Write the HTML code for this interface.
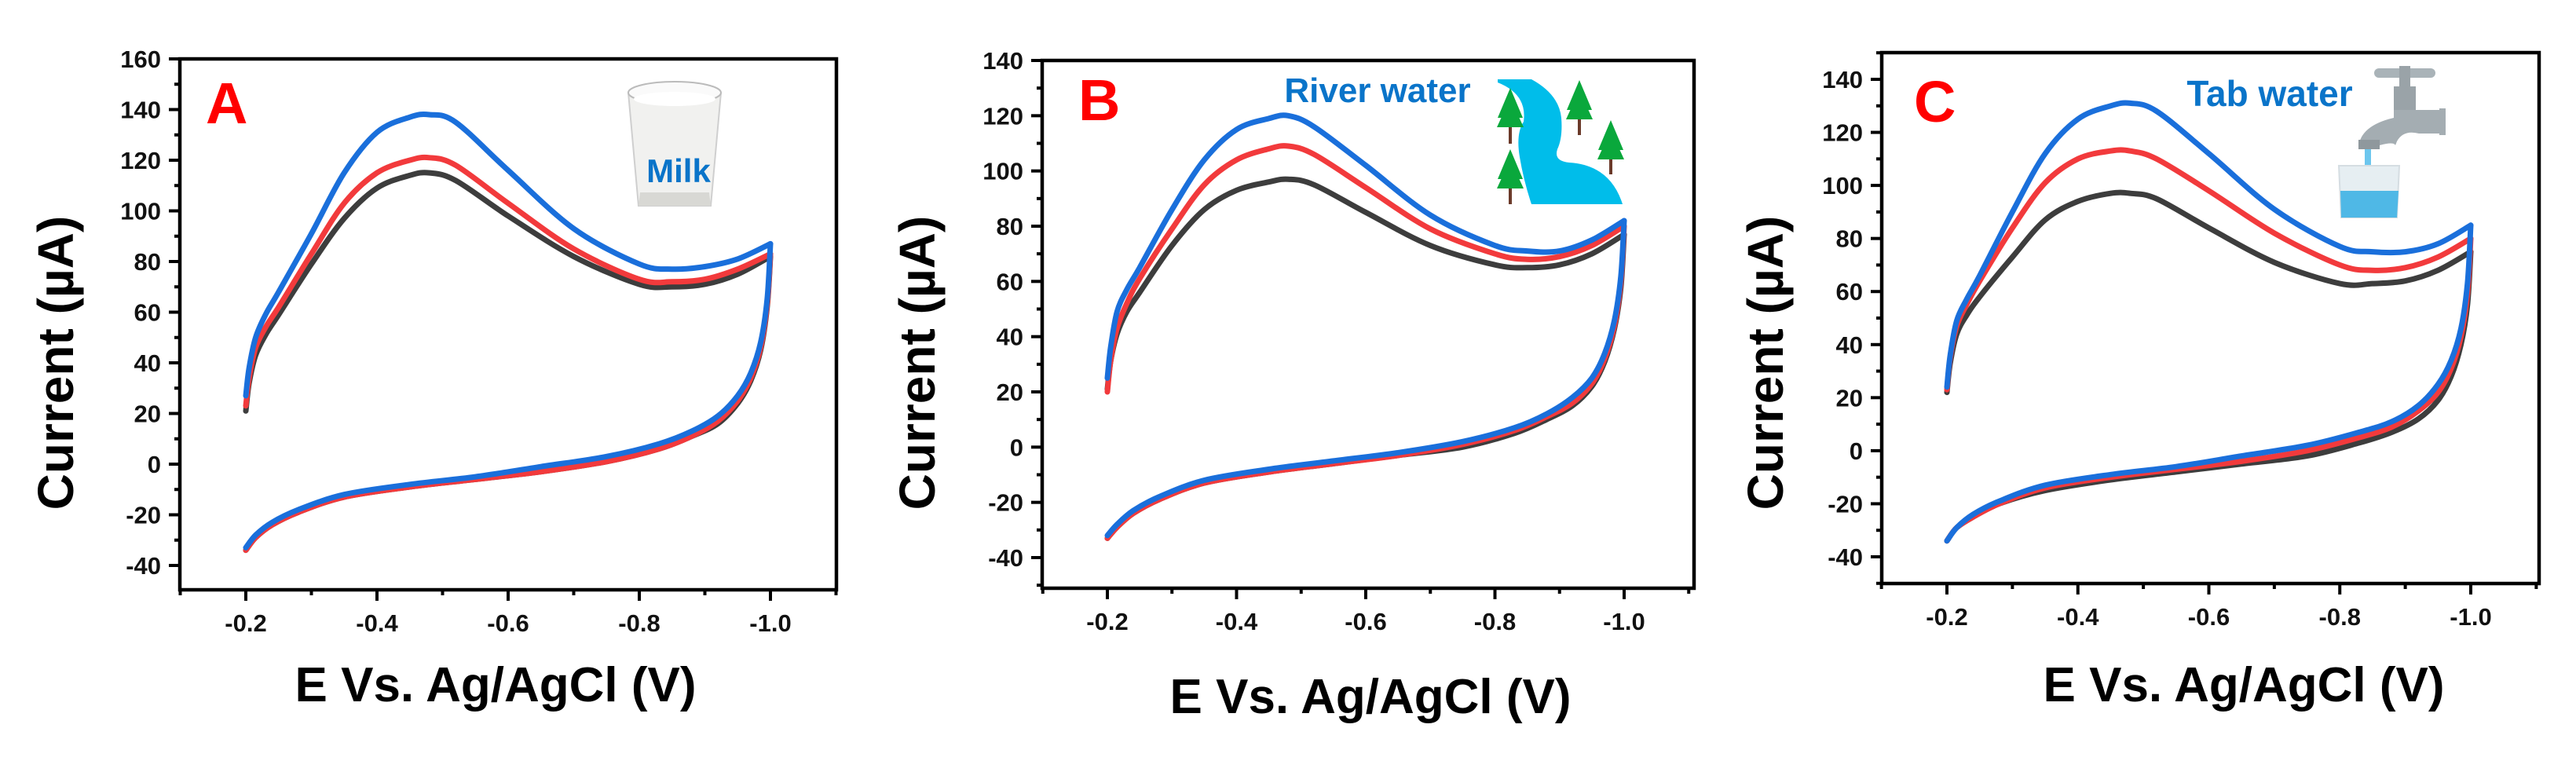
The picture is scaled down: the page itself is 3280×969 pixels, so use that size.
<!DOCTYPE html>
<html><head><meta charset="utf-8">
<style>
html,body{margin:0;padding:0;background:#fff;}
svg{display:block;}
text{font-family:"Liberation Sans",Arial,sans-serif;font-weight:bold;}
</style></head>
<body>
<svg id="fig" width="3280" height="969" viewBox="0 0 3280 969" xmlns="http://www.w3.org/2000/svg">
<rect x="0" y="0" width="3280" height="969" fill="#fff"/>
<g id="panels"></g>
<g id="icons">
  <g>
    <path d="M800,118 L918,118 L905,262 L813,262 Z" fill="#f1f1ef" stroke="#cfcfcf" stroke-width="2"/>
    <ellipse cx="859" cy="118" rx="59" ry="14" fill="#fafafa" stroke="#bbb" stroke-width="2"/>
    <ellipse cx="859" cy="126" rx="52" ry="9" fill="#fff"/>
    <path d="M815,245 L903,245 L905,262 L813,262 Z" fill="#d8d8d4"/>
  </g>
  <g>
    <path d="M1907,101 L1950,101 Q1985,120 1988,150 Q1990,175 1983,190 Q1978,205 1998,207 Q2050,210 2066,260 L1950,260 Q1940,230 1935,200 Q1930,170 1940,155 Q1945,120 1907,105 Z" fill="#00bdea"/>
    <g fill="#0aa83c">
      <path d="M1923,112 L1907,150 L1939,150 Z M1923,125 L1906,162 L1940,162 Z"/>
      <path d="M2011,102 L1995,140 L2027,140 Z M2011,115 L1994,152 L2028,152 Z"/>
      <path d="M2051,153 L2035,191 L2067,191 Z M2051,166 L2034,203 L2068,203 Z"/>
      <path d="M1923,190 L1907,228 L1939,228 Z M1923,203 L1906,240 L1940,240 Z"/>
    </g>
    <g stroke="#6b3a2a" stroke-width="4">
      <line x1="1923" y1="162" x2="1923" y2="183"/>
      <line x1="2011" y1="152" x2="2011" y2="172"/>
      <line x1="2051" y1="203" x2="2051" y2="222"/>
      <line x1="1923" y1="240" x2="1923" y2="260"/>
    </g>
  </g>
  <g>
    <rect x="3023" y="87" width="78" height="12" rx="6" fill="#a9b3b8"/>
    <rect x="3055" y="84" width="14" height="30" fill="#9aa3a8"/>
    <rect x="3048" y="110" width="28" height="32" fill="#9aa3a8"/>
    <path d="M3048,140 L3108,140 L3108,170 L3080,170 Q3060,165 3052,180 L3050,185 Q3048,180 3030,185 L3003,188 Q3005,160 3048,150 Z" fill="#a4adb2"/>
    <path d="M3003,178 L3030,178 L3030,190 L3003,190 Z" fill="#8f989d"/>
    <rect x="3106" y="138" width="8" height="34" fill="#a4adb2"/>
    <rect x="3011" y="190" width="8" height="60" fill="#6cc6ee"/>
    <path d="M2978,211 L3055,211 L3052,277 L2981,277 Z" fill="#e6eef2" stroke="#d5dde2" stroke-width="2"/>
    <path d="M2980,243 L3054,243 L3052,277 L2981,277 Z" fill="#4fb8e6"/>
  </g>
</g>
</svg>
<script>
const upX = [-0.2,-0.205,-0.215,-0.23,-0.25,-0.3,-0.35,-0.4,-0.45,-0.48,-0.52,-0.6,-0.7,-0.8,-0.85,-0.9,-0.95,-1.0];
const loX = [-1.0,-0.995,-0.985,-0.97,-0.95,-0.92,-0.88,-0.83,-0.75,-0.65,-0.55,-0.45,-0.35,-0.28,-0.24,-0.215,-0.2];

const A_black_up = [21,32,43,51,59,79,97,109,114,115,112,98,82,71,70,71,75,82];
const A_red_up   = [23,34,46,54,62,83,103,115,120,121,118,103,85,73,72,73,77,83];
const A_blue_up  = [27,38,50,59,68,91,115,131,137,138,135,116,93,79,77,78,81,87];
const A_black_lo = [82,62,45,33,24,16,11,6,1,-3,-6,-9,-13,-19,-24,-29,-34];
const A_red_lo   = [83,63,46,34,25,17,11,6,1,-3,-6,-9,-13,-19,-24,-29,-34];
const A_blue_lo  = [87,65,48,36,27,19,13,8,3,-1,-5,-8,-12,-18,-23,-28,-33];

const B_black_up = [21,31,41,49,56,73,86,93,96,97,95,85,73,66,65,66,70,77];
const B_red_up   = [20,31,43,52,61,79,95,104,108,109,106,94,79,70,68,69,73,80];
const B_blue_up  = [25,36,49,57,65,86,104,115,119,120,116,102,84,73,71,71,75,82];
const B_black_lo = [77,58,43,31,22,15,10,5,0,-3,-6,-9,-13,-19,-24,-29,-33];
const B_red_lo   = [80,60,44,32,23,16,11,6,1,-3,-6,-9,-13,-19,-24,-29,-33];
const B_blue_lo  = [82,62,46,34,25,18,12,7,2,-2,-5,-8,-12,-18,-23,-28,-32];

const C_black_up = [22,33,44,51,58,73,87,94,97,97,95,84,71,63,63,64,68,75];
const C_red_up   = [23,35,47,55,64,84,101,110,113,113,110,98,82,70,68,69,73,80];
const C_blue_up  = [24,36,49,57,66,90,112,125,130,131,128,112,91,77,75,75,78,85];
const C_black_lo = [75,55,40,28,19,12,7,3,-2,-5,-8,-11,-15,-20,-25,-29,-34];
const C_red_lo   = [80,59,43,31,22,15,9,5,0,-4,-7,-10,-14,-20,-25,-29,-34];
const C_blue_lo  = [85,63,46,34,25,17,11,7,2,-2,-6,-9,-13,-19,-24,-29,-34];

const xTickVals = [-0.2,-0.4,-0.6,-0.8,-1.0];
const xTickLabels = ["-0.2","-0.4","-0.6","-0.8","-1.0"];
const yTicksA = [-40,-20,0,20,40,60,80,100,120,140,160];
const yTicksB = [-40,-20,0,20,40,60,80,100,120,140];
const yTicksC = [-40,-20,0,20,40,60,80,100,120,140];

const NS = "http://www.w3.org/2000/svg";
function mk(tag, attrs, parent){
  const e = document.createElementNS(NS, tag);
  for (const k in attrs) e.setAttribute(k, attrs[k]);
  parent.appendChild(e);
  return e;
}
function smoothPath(pts){
  let d = "M" + pts[0][0].toFixed(1) + "," + pts[0][1].toFixed(1);
  for (let i=0;i<pts.length-1;i++){
    const p0 = pts[Math.max(0,i-1)], p1 = pts[i], p2 = pts[i+1], p3 = pts[Math.min(pts.length-1,i+2)];
    const c1x = p1[0]+(p2[0]-p0[0])/6, c1y = p1[1]+(p2[1]-p0[1])/6;
    const c2x = p2[0]-(p3[0]-p1[0])/6, c2y = p2[1]-(p3[1]-p1[1])/6;
    d += " C"+c1x.toFixed(1)+","+c1y.toFixed(1)+" "+c2x.toFixed(1)+","+c2y.toFixed(1)+" "+p2[0].toFixed(1)+","+p2[1].toFixed(1);
  }
  return d;
}

const panels = [
  {id:"a", letter:"A", x02:313, x10:981, ymax:160, yTopPx:75, y40px:720, left:229, right:1065, top:75, bottom:751,
   yTicks:yTicksA, series:[A_black_up,A_black_lo,A_red_up,A_red_lo,A_blue_up,A_blue_lo],
   ytitleX:70, xtitleX:631, xtitleY:893, letterX:262, letterY:157, label:"Milk", labelX:864, labelY:232, labelSize:42},
  {id:"b", letter:"B", x02:1410, x10:2068, ymax:140, yTopPx:77, y40px:710, left:1327, right:2157, top:77, bottom:749,
   yTicks:yTicksB, series:[B_black_up,B_black_lo,B_red_up,B_red_lo,B_blue_up,B_blue_lo],
   ytitleX:1167, xtitleX:1745, xtitleY:908, letterX:1373, letterY:153, label:"River water", labelX:1754, labelY:130, labelSize:44},
  {id:"c", letter:"C", x02:2479, x10:3146, ymax:140, yTopPx:101, y40px:709, left:2396, right:3233, top:67, bottom:743,
   yTicks:yTicksC, series:[C_black_up,C_black_lo,C_red_up,C_red_lo,C_blue_up,C_blue_lo],
   ytitleX:2247, xtitleX:2857, xtitleY:893, letterX:2437, letterY:155, label:"Tab water", labelX:2890, labelY:135, labelSize:46}
];
const colors = ["#3d3d3d","#3d3d3d","#f23a3c","#f23a3c","#1a6fdb","#1a6fdb"];
const root = document.getElementById("panels");

panels.forEach(p=>{
  const g = mk("g",{},root);
  
  
  const sx = v => p.x02 + (v - (-0.2)) / (-0.8) * (p.x10 - p.x02);
  const sy = v => p.y40px - (v - (-40)) / (p.ymax + 40) * (p.y40px - p.yTopPx);

  const cg = mk("g",{},g);
  
  
  const names = ["black-forward","black-reverse","red-forward","red-reverse","blue-forward","blue-reverse"];
  p.series.forEach((vals,i)=>{
    const xs = (i%2===0) ? upX : loX;
    const pts = vals.map((v,j)=>[sx(xs[j]), sy(v)]);
    const path = mk("path",{d:smoothPath(pts), fill:"none", stroke:colors[i], "stroke-width":7, "stroke-linecap":"round","stroke-linejoin":"round"},cg);
    
    
  });

  const frame = mk("rect",{x:p.left, y:p.top, width:p.right-p.left, height:p.bottom-p.top, fill:"none", stroke:"#000", "stroke-width":4.5},g);
  
  

  const yax = mk("g",{},g);
  
  
  for (let v=-50; v<=p.ymax+10; v+=10){
    const y = sy(v);
    if (y < p.top-1 || y > p.bottom+1) continue;
    const major = (v % 20 === 0);
    mk("line",{x1:p.left-(major?14:7), x2:p.left, y1:y, y2:y, stroke:"#000","stroke-width":4},yax);
  }
  p.yTicks.forEach(v=>{
    const t = mk("text",{x:p.left-24, y:sy(v)+11, "text-anchor":"end", "font-size":31, fill:"#111"},yax);
    t.textContent = String(v);
    
    
  });

  const xax = mk("g",{},g);
  
  
  for (let k=1;k<=11;k++){
    const v = -k/10;
    const x = sx(v);
    const major = (k%2===0);
    mk("line",{x1:x, x2:x, y1:p.bottom, y2:p.bottom+(major?14:7), stroke:"#000","stroke-width":4},xax);
  }
  xTickVals.forEach((v,i)=>{
    const t = mk("text",{x:sx(v), y:p.bottom+53, "text-anchor":"middle", "font-size":31, fill:"#111"},xax);
    t.textContent = xTickLabels[i];
    
    
  });

  const xt = mk("text",{x:p.xtitleX, y:p.xtitleY, "text-anchor":"middle", "font-size":62, fill:"#000"},g);
  xt.textContent = "E Vs. Ag/AgCl (V)";
  
  
  const yt = mk("text",{x:0, y:0, "text-anchor":"middle", "font-size":64, fill:"#000", transform:"translate("+(p.ytitleX+23)+",462) rotate(-90)"},g);
  yt.textContent = "Current (\u00B5A)";
  
  

  const lt = mk("text",{x:p.letterX, y:p.letterY, "font-size":74, fill:"#ff0000"},g);
  lt.textContent = p.letter;
  
  

  const lb = mk("text",{x:p.labelX, y:p.labelY, "text-anchor":"middle", "font-size":p.labelSize, fill:"#0a74c9"},g);
  lb.textContent = p.label;
  
  
});
const fig = document.getElementById("fig");
fig.appendChild(root);
</script>
</body></html>
